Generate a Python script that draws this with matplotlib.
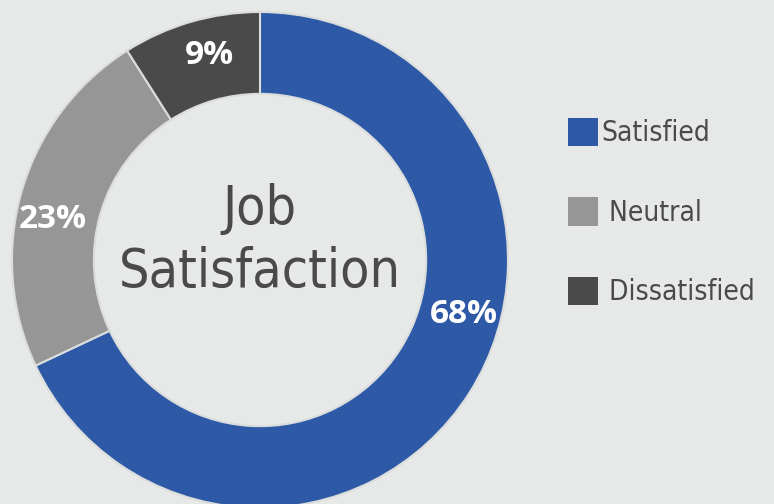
import numpy as np
import matplotlib.pyplot as plt
from matplotlib import font_manager
from matplotlib.font_manager import FontProperties
from matplotlib.patches import Patch

# data
categories = ['Satisfied', 'Neutral', 'Dissatisfied']
values = [68, 23, 9]
colors = ['#2E59A6', '#969696', '#4A4A4A']
legend_labels = ['Satisfied', ' Neutral', ' Dissatisfied']
label_angles = [-15, 169, 104]  # where the % labels sit (deg)


def pick_narrow():
    # look for any condensed / narrow regular face
    found = []
    for f in font_manager.fontManager.ttflist:
        st = str(f.stretch).lower()
        nm = f.name.lower() + ' ' + f.fname.lower()
        if f.style != 'normal' or f.weight not in (400, 'normal', 'regular'):
            continue
        if 'condensed' in st or 'narrow' in nm or 'condensed' in nm:
            if 'semi' in st or 'semi' in nm:
                continue
            if 'extra' in st or 'extra' in nm:
                continue
            found.append(f)
    if found:
        return FontProperties(fname=found[0].fname)
    return FontProperties(family='Roboto')


narrow = pick_narrow()

bg = '#E7E9E8'
fig = plt.figure(figsize=(7.74, 5.04), dpi=100, facecolor=bg)
ax = fig.add_axes([12 / 774, -4 / 504, 496 / 774, 496 / 504])
ax.set_facecolor(bg)

wedges, texts, autotexts = ax.pie(
    values, colors=colors, startangle=90, counterclock=False, radius=1,
    autopct='%d%%', pctdistance=0.84,
    wedgeprops=dict(width=0.33, edgecolor='#DADDDC', linewidth=1.5),
    textprops=dict(color='white', fontsize=24, fontweight='bold', family='Open Sans'))

for t, a in zip(autotexts, label_angles):
    r = 0.85
    t.set_position((r * np.cos(np.radians(a)), r * np.sin(np.radians(a))))

ax.set_xlim(-1, 1)
ax.set_ylim(-1, 1)
ax.set_aspect('equal')
ax.axis('off')

renderer = fig.canvas.get_renderer()


def fit(txt, width_px):
    # shrink/grow the text so it spans width_px pixels
    w = txt.get_window_extent(renderer).width
    txt.set_fontsize(txt.get_fontsize() * width_px / w)


fp1 = narrow.copy()
fp1.set_size(48)
t1 = ax.text(0, (260 - 224) / 248, 'Job', ha='center', va='baseline',
             color='#4A4A4A', fontproperties=fp1)
fp2 = narrow.copy()
fp2.set_size(48)
t2 = ax.text(0, (260 - 287) / 248, 'Satisfaction', ha='center', va='baseline',
             color='#4A4A4A', fontproperties=fp2)
fit(t2, 282)
t1.set_fontsize(t2.get_fontsize())

# legend font sized so 'Dissatisfied' is about 146 px wide
probe_fp = narrow.copy()
probe_fp.set_size(25)
probe = fig.text(0, 0, 'Dissatisfied', fontproperties=probe_fp)
lsize = 25 * 146 / probe.get_window_extent(renderer).width
probe.remove()
lsize = min(lsize, 25)
lfp = narrow.copy()
lfp.set_size(lsize)

px = lsize * 100 / 72
handles = [Patch(facecolor=c, edgecolor='none') for c in colors]
fig.legend(handles, legend_labels, loc='center left', bbox_to_anchor=(543 / 774, 1 - 212 / 504),
           frameon=False, handlelength=30 / px, handleheight=33 / px,
           handletextpad=0.1, labelspacing=(80 - 30) / px,
           labelcolor='#4A4A4A', prop=lfp)

fig.savefig('out.png', dpi=100, facecolor=bg)
